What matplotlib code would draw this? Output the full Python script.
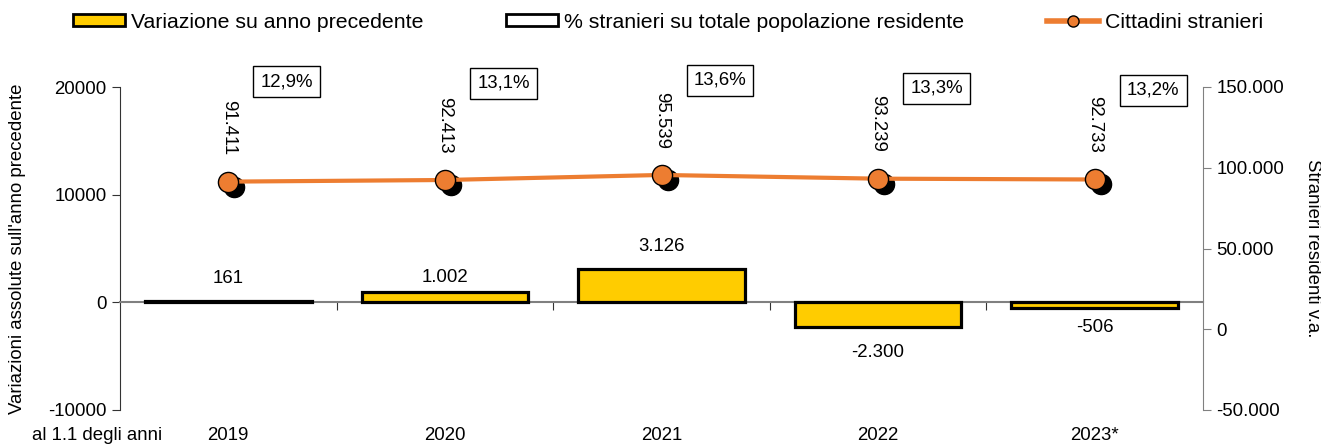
import matplotlib
matplotlib.use("Agg")
import matplotlib.pyplot as plt
import matplotlib.transforms as mtransforms
from matplotlib.lines import Line2D
from matplotlib.patches import Patch

plt.rcParams['font.family'] = ['Liberation Sans', 'DejaVu Sans']

years = ["2019", "2020", "2021", "2022", "2023*"]
variazione = [161, 1002, 3126, -2300, -506]
variazione_lbl = ["161", "1.002", "3.126", "-2.300", "-506"]
stranieri = [91411, 92413, 95539, 93239, 92733]
stranieri_lbl = ["91.411", "92.413", "95.539", "93.239", "92.733"]
perc_lbl = ["12,9%", "13,1%", "13,6%", "13,3%", "13,2%"]

# layout-only settings
perc_box_y = [20500, 20340, 20620, 19876, 19690]
bar_lbl_off = [16, 10, 16, -18, -14]  # points

YELLOW = "#FFCC00"
ORANGE = "#ED7D31"
FS = 13.4
LFS = 15.3

fig = plt.figure(figsize=(13.21, 4.45), dpi=100)
ax = fig.add_axes([120/1321, 35/445, 1083/1321, 323/445])
ax2 = ax.twinx()

x = list(range(len(years)))
ax.bar(x, variazione, width=0.77, color=YELLOW, edgecolor="black", linewidth=2.3, zorder=3)
ax.set_xlim(-0.5, len(years) - 0.5)
ax.set_ylim(-10000, 20000)
ax.set_yticks([-10000, 0, 10000, 20000])
ax.set_yticklabels(["-10000", "0", "10000", "20000"], fontsize=FS)

for s in ["top", "right"]:
    ax.spines[s].set_visible(False)
ax.spines["bottom"].set_position(("data", 0))
ax.spines["bottom"].set_color("#808080")
ax.spines["bottom"].set_linewidth(1.5)
ax.spines["left"].set_color("#333333")
ax.set_xticks([i + 0.5 for i in x[:-1]])
ax.set_xticklabels([])
ax.tick_params(axis="x", direction="out", length=6, color="#333333")
ax.tick_params(axis="y", direction="out", length=6, color="#333333")
ax.set_ylabel("Variazioni assolute sull'anno precedente", fontsize=FS)
ax.yaxis.set_label_coords(-0.087, 0.5)

trans_b = mtransforms.blended_transform_factory(ax.transData, fig.transFigure)
for i, y in enumerate(years):
    ax.text(i, 9/445, y, ha="center", va="center", fontsize=FS, transform=trans_b)
fig.text(32/1321, 9/445, "al 1.1 degli anni", ha="left", va="center", fontsize=FS)

for i, (v, lbl) in enumerate(zip(variazione, variazione_lbl)):
    off = bar_lbl_off[i]
    ax.annotate(lbl, (i, v), xytext=(0, off), textcoords="offset points",
                ha="center", va="center", fontsize=FS)

for i, lbl in enumerate(perc_lbl):
    ax.text(i + 0.27, perc_box_y[i], lbl, ha="center", va="center", fontsize=FS,
            bbox=dict(boxstyle="square,pad=0.38", facecolor="white", edgecolor="black", linewidth=1),
            clip_on=False, zorder=5)

# secondary axis: line
shadow = mtransforms.offset_copy(ax2.transData, fig=fig, x=6, y=-5, units="dots")
ax2.plot(x, stranieri, linestyle="none", marker="o", markersize=14.5,
         color="black", transform=shadow, zorder=3, clip_on=False)
ax2.plot(x, stranieri, color=ORANGE, linewidth=3, marker="o", markersize=14.5,
         markerfacecolor=ORANGE, markeredgecolor="black", markeredgewidth=1,
         zorder=4, clip_on=False)
ax2.set_ylim(-50000, 150000)
ax2.set_yticks([-50000, 0, 50000, 100000, 150000])
ax2.set_yticklabels(["-50.000", "0", "50.000", "100.000", "150.000"], fontsize=FS)
for s in ["top", "left", "bottom"]:
    ax2.spines[s].set_visible(False)
ax2.spines["right"].set_color("#808080")
ax2.tick_params(axis="y", direction="out", length=6, color="#808080")
ax2.set_ylabel("Stranieri residenti v.a.", fontsize=FS, rotation=270)
ax2.yaxis.set_label_coords(1.109, 0.5)

for i, (v, lbl) in enumerate(zip(stranieri, stranieri_lbl)):
    ax2.annotate(lbl, (i, v), xytext=(0, 19), textcoords="offset points",
                 ha="center", va="bottom", rotation=270, fontsize=FS)

handles = [
    Patch(facecolor=YELLOW, edgecolor="black", linewidth=2),
    Patch(facecolor="white", edgecolor="black", linewidth=2),
    Line2D([0], [0], color=ORANGE, linewidth=4, marker="o", markersize=8,
           markerfacecolor=ORANGE, markeredgecolor="black"),
]
labels = ["Variazione su anno precedente", "% stranieri su totale popolazione residente",
          "Cittadini stranieri"]
fig.legend(handles, labels, loc="center left", bbox_to_anchor=(73/1321, 1 - 22/445), ncol=3,
           frameon=False, fontsize=LFS, handlelength=2.45, handleheight=0.5,
           handletextpad=0.28, columnspacing=3.9, borderpad=0, borderaxespad=0)

fig.savefig("out.png", dpi=100)
